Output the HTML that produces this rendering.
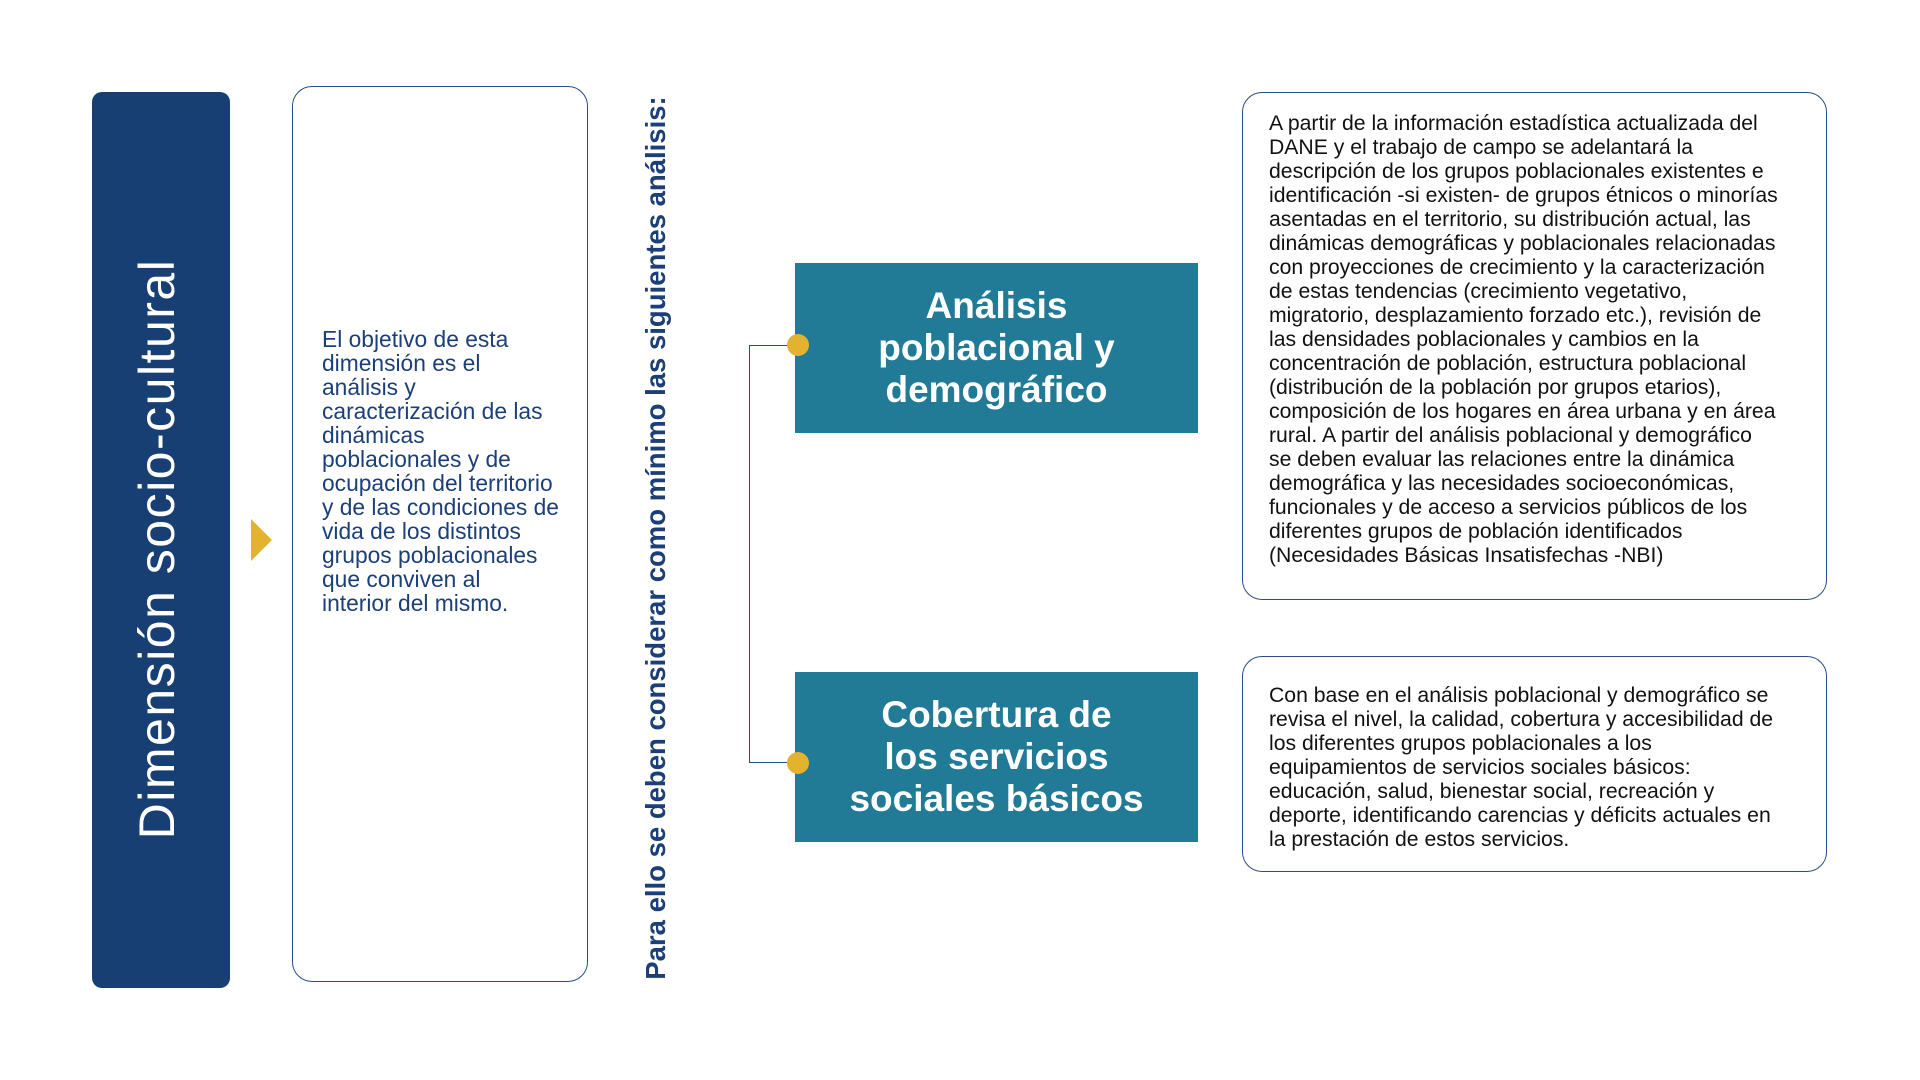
<!DOCTYPE html>
<html><head><meta charset="utf-8"><style>
html,body{margin:0;padding:0;background:#fff;}
body{width:1920px;height:1080px;position:relative;overflow:hidden;font-family:"Liberation Sans",sans-serif;}
.abs{position:absolute;}
.dark{left:92px;top:92px;width:138px;height:896px;background:#173f73;border-radius:10px;}
.title{left:157px;top:549px;transform:translate(-50%,-50%) rotate(-90deg);color:#fff;font-size:50px;letter-spacing:1.5px;white-space:nowrap;}
.wbox{left:292px;top:86px;width:296px;height:896px;border:1.5px solid #2b4d86;border-radius:20px;box-sizing:border-box;}
.tri{left:251px;top:519px;width:0;height:0;border-top:21px solid transparent;border-bottom:21px solid transparent;border-left:21px solid #e3b22f;}
.ltext{left:322px;top:327px;color:#1c3f78;font-size:22.8px;line-height:24px;white-space:nowrap;}
.vert{left:656px;top:538px;transform:translate(-50%,-50%) rotate(-90deg);color:#1c3f78;font-size:27.5px;font-weight:bold;white-space:nowrap;}
.teal{left:795px;width:403px;height:170px;background:#217a96;color:#fff;font-weight:bold;font-size:37px;line-height:42px;text-align:center;display:flex;align-items:center;justify-content:center;}
.dot{width:22px;height:22px;border-radius:50%;background:#e3b22f;}
.rbox{left:1242px;width:585px;border:1.5px solid #2b4d86;border-radius:20px;box-sizing:border-box;}
.rtext{left:1269px;color:#111;font-size:21.2px;line-height:24px;white-space:nowrap;}
</style></head><body>
<div class="abs dark"></div>
<div class="abs title">Dimensión socio-cultural</div>
<div class="abs tri"></div>
<div class="abs wbox"></div>
<div class="abs ltext">El objetivo de esta<br>dimensión es el<br>análisis y<br>caracterización de las<br>dinámicas<br>poblacionales y de<br>ocupación del territorio<br>y de las condiciones de<br>vida de los distintos<br>grupos poblacionales<br>que conviven al<br>interior del mismo.</div>
<div class="abs vert">Para ello se deben considerar como mínimo las siguientes análisis:</div>
<div class="abs" style="left:749px;top:345px;width:48px;height:418px;border-left:1.5px solid #2b4d86;border-top:1.5px solid #2b4d86;border-bottom:1.5px solid #2b4d86;box-sizing:border-box;"></div>
<div class="abs teal" style="top:263px;">Análisis<br>poblacional y<br>demográfico</div>
<div class="abs teal" style="top:672px;">Cobertura de<br>los servicios<br>sociales básicos</div>
<div class="abs dot" style="left:787px;top:334px;"></div>
<div class="abs dot" style="left:787px;top:752px;"></div>
<div class="abs rbox" style="top:92px;height:508px;"></div>
<div class="abs rtext" style="top:112px;">A partir de la información estadística actualizada del<br>DANE y el trabajo de campo se adelantará la<br>descripción de los grupos poblacionales existentes e<br>identificación -si existen- de grupos étnicos o minorías<br>asentadas en el territorio, su distribución actual, las<br>dinámicas demográficas y poblacionales relacionadas<br>con proyecciones de crecimiento y la caracterización<br>de estas tendencias (crecimiento vegetativo,<br>migratorio, desplazamiento forzado etc.), revisión de<br>las densidades poblacionales y cambios en la<br>concentración de población, estructura poblacional<br>(distribución de la población por grupos etarios),<br>composición de los hogares en área urbana y en área<br>rural. A partir del análisis poblacional y demográfico<br>se deben evaluar las relaciones entre la dinámica<br>demográfica y las necesidades socioeconómicas,<br>funcionales y de acceso a servicios públicos de los<br>diferentes grupos de población identificados<br>(Necesidades Básicas Insatisfechas -NBI)</div>
<div class="abs rbox" style="top:656px;height:216px;"></div>
<div class="abs rtext" style="top:684px;">Con base en el análisis poblacional y demográfico se<br>revisa el nivel, la calidad, cobertura y accesibilidad de<br>los diferentes grupos poblacionales a los<br>equipamientos de servicios sociales básicos:<br>educación, salud, bienestar social, recreación y<br>deporte, identificando carencias y déficits actuales en<br>la prestación de estos servicios.</div>
</body></html>
